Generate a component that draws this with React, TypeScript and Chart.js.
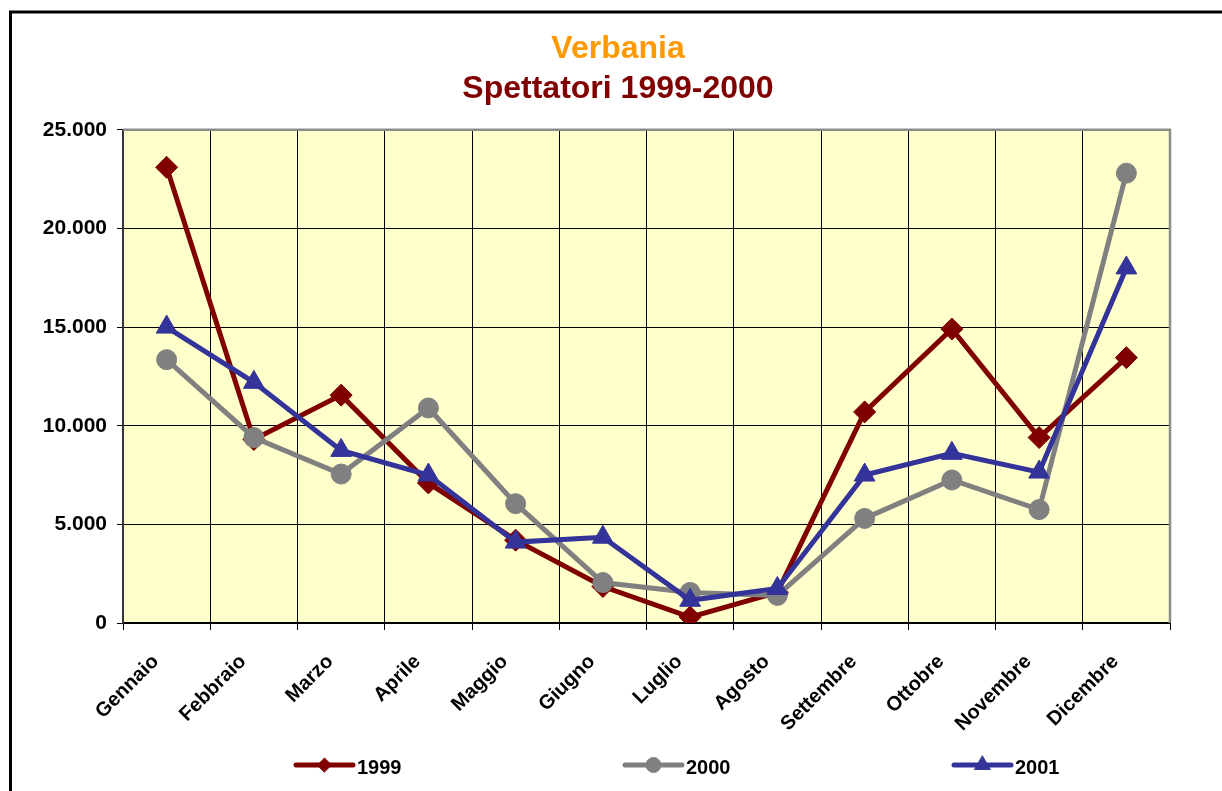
import { useEffect, useRef } from "react";
import { Chart, registerables } from "chart.js";
import { drawPoint } from "chart.js/helpers";

Chart.register(...registerables);

const months = ["Gennaio", "Febbraio", "Marzo", "Aprile", "Maggio", "Giugno", "Luglio", "Agosto", "Settembre", "Ottobre", "Novembre", "Dicembre"];
const spettatori1999 = [23100, 9300, 11550, 7100, 4200, 1850, 300, 1550, 10700, 14900, 9400, 13450];
const spettatori2000 = [13350, 9400, 7550, 10900, 6050, 2050, 1550, 1400, 5300, 7250, 5750, 22800];
const spettatori2001 = [15000, 12200, 8750, 7500, 4100, 4350, 1150, 1750, 7500, 8600, 7650, 18000];
const seriesNames = ["1999", "2000", "2001"];
const yTickValues = [0, 5000, 10000, 15000, 20000, 25000];
const titleText = "Verbania";
const subtitleText = "Spettatori 1999-2000";

const FONT = "'Liberation Sans', Arial, Helvetica, sans-serif";

const fmt = (v: number) => String(v).replace(/\B(?=(\d{3})+(?!\d))/g, ".");

const plotBgPlugin = {
  id: "plotBg",
  beforeDraw(chart: any) {
    const { ctx, chartArea: a } = chart;
    ctx.save();
    ctx.fillStyle = "#FFFFCC";
    ctx.fillRect(a.left, a.top, a.right - a.left, a.bottom - a.top);
    ctx.restore();
  },
  beforeDatasetsDraw(chart: any) {
    const { ctx, chartArea: a } = chart;
    ctx.save();
    ctx.strokeStyle = "#8c8c8c";
    ctx.lineWidth = 2.5;
    ctx.beginPath();
    ctx.moveTo(a.left, a.top);
    ctx.lineTo(a.right, a.top);
    ctx.lineTo(a.right, a.bottom);
    ctx.stroke();
    ctx.restore();
  },
};

const framePlugin = {
  id: "frame",
  afterDraw(chart: any) {
    const ctx = chart.ctx;
    ctx.save();
    ctx.strokeStyle = "#000";
    ctx.lineWidth = 3;
    ctx.beginPath();
    ctx.moveTo(10.5, chart.height + 5);
    ctx.lineTo(10.5, 12);
    ctx.lineTo(chart.width + 5, 12);
    ctx.stroke();
    ctx.restore();
  },
};

const legendPlugin = {
  id: "excelLegend",
  afterDraw(chart: any) {
    const ctx = chart.ctx;
    const y = 765;
    const start = 296;
    const step = 329;
    const lineLen = 57;
    const markerRadius = [7, 7.5, 9];
    chart.data.datasets.forEach((ds: any, i: number) => {
      const x0 = start + i * step;
      ctx.save();
      ctx.strokeStyle = ds.borderColor;
      ctx.lineWidth = 5;
      ctx.lineCap = "round";
      ctx.beginPath();
      ctx.moveTo(x0, y);
      ctx.lineTo(x0 + lineLen, y);
      ctx.stroke();
      ctx.fillStyle = ds.backgroundColor;
      ctx.strokeStyle = ds.borderColor;
      ctx.lineWidth = 1;
      drawPoint(ctx, { pointStyle: ds.pointStyle, radius: markerRadius[i], rotation: 0, borderWidth: 1 }, x0 + lineLen / 2, y);
      ctx.fillStyle = "#000";
      ctx.font = `bold 20px ${FONT}`;
      ctx.textAlign = "left";
      ctx.textBaseline = "alphabetic";
      ctx.fillText(ds.label, x0 + lineLen + 4, y + 9);
      ctx.restore();
    });
  },
};

export default function App() {
  const ref = useRef<HTMLCanvasElement>(null);

  useEffect(() => {
    if (!ref.current) return;
    const chart = new Chart(ref.current, {
      type: "line",
      data: {
        labels: months,
        datasets: [
          {
            label: seriesNames[0],
            data: spettatori1999,
            borderColor: "#800000",
            backgroundColor: "#800000",
            pointStyle: "rectRot",
            pointRadius: 11,
            pointBorderWidth: 1,
            borderWidth: 5,
            order: 2,
          },
          {
            label: seriesNames[1],
            data: spettatori2000,
            borderColor: "#808080",
            backgroundColor: "#808080",
            pointStyle: "circle",
            pointRadius: 10,
            pointBorderWidth: 1,
            borderWidth: 5,
            order: 1,
          },
          {
            label: seriesNames[2],
            data: spettatori2001,
            borderColor: "#333399",
            backgroundColor: "#333399",
            pointStyle: "triangle",
            pointRadius: 12,
            pointBorderWidth: 1,
            borderWidth: 5,
            order: 0,
          },
        ],
      },
      options: {
        responsive: false,
        animation: false,
        devicePixelRatio: 1,
        layout: { padding: { left: 14, right: 0, top: 0, bottom: 0 } },
        plugins: {
          legend: { display: false },
          tooltip: { enabled: false },
          title: {
            display: true,
            text: titleText,
            color: "#FF9900",
            font: { family: FONT, size: 32, weight: "bold" },
            padding: { top: 30, bottom: 0 },
          },
          subtitle: {
            display: true,
            text: subtitleText,
            color: "#800000",
            font: { family: FONT, size: 32, weight: "bold" },
            padding: { top: 2, bottom: 21 },
          },
        },
        scales: {
          x: {
            offset: true,
            grid: { offset: true, color: "#000", lineWidth: 1, tickLength: 7, drawTicks: true },
            border: { color: "#000", width: 2 },
            ticks: {
              color: "#000",
              font: { family: FONT, size: 20, weight: "bold" },
              minRotation: 45,
              maxRotation: 45,
              autoSkip: false,
              padding: 20,
              labelOffset: -11,
            },
            afterFit(scale: any) {
              scale.height = 168;
            },
          },
          y: {
            min: 0,
            max: 25000,
            afterBuildTicks(scale: any) {
              scale.ticks = yTickValues.map((v) => ({ value: v }));
            },
            grid: { color: "#000", lineWidth: 1, tickLength: 6 },
            border: { color: "#333", width: 2 },
            ticks: {
              color: "#000",
              font: { family: FONT, size: 21, weight: "bold" },
              padding: 10,
              callback: (v: any) => fmt(Number(v)),
            },
            afterFit(scale: any) {
              scale.width = 109;
            },
          },
          yRight: {
            type: "linear",
            position: "right",
            display: true,
            grid: { display: false, drawTicks: false },
            border: { display: false },
            ticks: { display: false },
            afterFit(scale: any) {
              scale.width = 52;
            },
          },
        },
      },
      plugins: [plotBgPlugin, legendPlugin, framePlugin],
    });
    return () => chart.destroy();
  }, []);

  return (
    <div style={{ position: "fixed", left: 0, top: 0, width: 1222, height: 791, overflow: "hidden", background: "#fff" }}>
      <canvas ref={ref} width={1222} height={791} style={{ width: 1222, height: 791, display: "block" }} />
    </div>
  );
}
